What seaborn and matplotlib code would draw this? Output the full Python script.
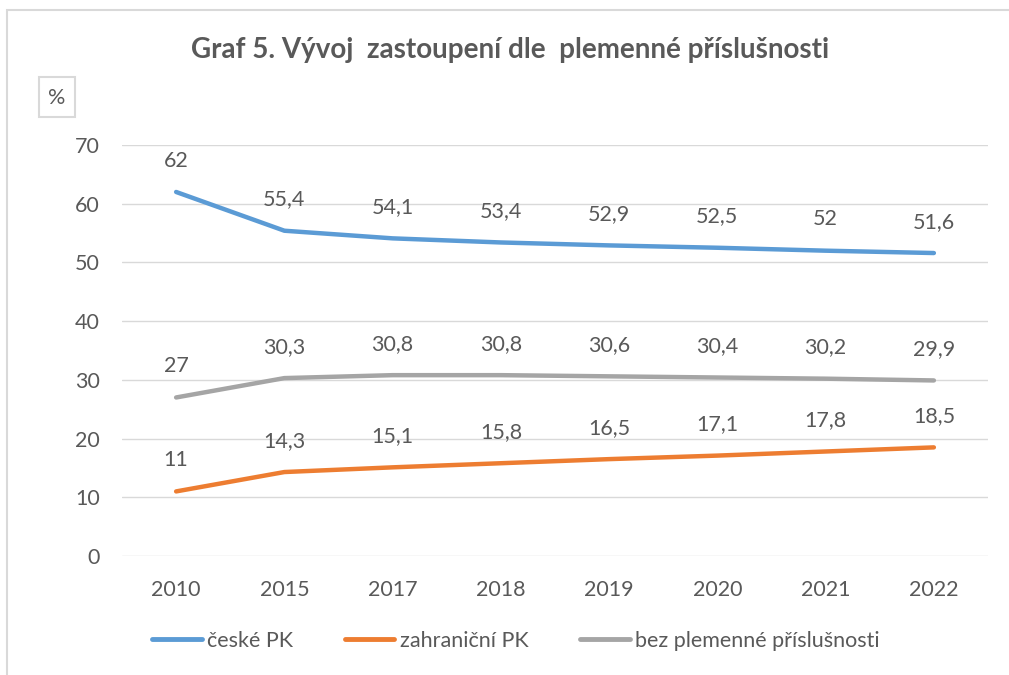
import pandas as pd
import seaborn as sns
import matplotlib.pyplot as plt
from matplotlib.patches import Rectangle

# Daten
years = ["2010", "2015", "2017", "2018", "2019", "2020", "2021", "2022"]
ceske_pk = [62, 55.4, 54.1, 53.4, 52.9, 52.5, 52, 51.6]
zahranicni_pk = [11, 14.3, 15.1, 15.8, 16.5, 17.1, 17.8, 18.5]
bez_prislusnosti = [27, 30.3, 30.8, 30.8, 30.6, 30.4, 30.2, 29.9]
series_names = ["české PK", "zahraniční PK", "bez plemenné příslušnosti"]
colors = ["#5B9BD5", "#ED7D31", "#A5A5A5"]

rows = []
for name, vals in zip(series_names, [ceske_pk, zahranicni_pk, bez_prislusnosti]):
    for i, v in enumerate(vals):
        rows.append({"pos": i, "rok": years[i], "hodnota": v, "serie": name})
df = pd.DataFrame(rows)

sns.set_theme(style="white")
plt.rcParams["font.family"] = ["Lato", "DejaVu Sans"]
txt = "#595959"
fs = 15.5

fig = plt.figure(figsize=(10.09, 6.75), dpi=100)
ax = fig.add_axes([122 / 1009, 1 - 556 / 675, 866 / 1009, 411 / 675])

sns.lineplot(data=df, x="pos", y="hodnota", hue="serie", palette=colors,
             hue_order=series_names, linewidth=3.2, ax=ax, legend=False)

# Datenbeschriftungen
for name, vals in zip(series_names, [ceske_pk, zahranicni_pk, bez_prislusnosti]):
    for i, v in enumerate(vals):
        lab = f"{v:g}".replace(".", ",")
        ax.annotate(lab, (i, v), xytext=(0, 22.5), textcoords="offset points",
                    ha="center", va="center", fontsize=fs, color=txt)

ax.set_xlim(-0.5, 7.5)
ax.set_ylim(0, 70)
ax.set_yticks(range(0, 71, 10))
ax.set_xticks(range(len(years)))
ax.set_xticklabels(years)
ax.set_xlabel("")
ax.set_ylabel("")
ax.grid(axis="y", color="#D9D9D9", linewidth=1)
ax.set_axisbelow(True)
for s in ax.spines.values():
    s.set_visible(False)
ax.tick_params(axis="both", length=0, labelsize=fs, labelcolor=txt)
ax.tick_params(axis="x", pad=17)
ax.tick_params(axis="y", pad=16)

# Titel
fig.text(510 / 1009, 1 - 50 / 675, "Graf 5. Vývoj  zastoupení dle  plemenné příslušnosti",
         ha="center", va="center", fontsize=20, fontweight="bold", color=txt)

# "%" Box
fig.patches.append(Rectangle((39 / 1009, 1 - 117 / 675), 36 / 1009, 40 / 675,
                             transform=fig.transFigure, fill=False,
                             edgecolor="#D9D9D9", linewidth=1.5))
fig.text(57 / 1009, 1 - 98 / 675, "%", ha="center", va="center", fontsize=fs, color=txt)

# Rahmen
fig.patches.append(Rectangle((7 / 1009, -0.05), 1.1, 1 - 10 / 675 + 0.05,
                             transform=fig.transFigure, fill=False,
                             edgecolor="#D9D9D9", linewidth=1.5))

# Legende
handles = [plt.Line2D([], [], color=c, linewidth=3.5) for c in colors]
fig.legend(handles, series_names, loc="center", bbox_to_anchor=(516 / 1009, 1 - 641 / 675),
           ncol=3, frameon=False, fontsize=fs, labelcolor=txt,
           handlelength=2.3, handletextpad=0.25, columnspacing=2.4)

fig.savefig("out.png", dpi=100)
